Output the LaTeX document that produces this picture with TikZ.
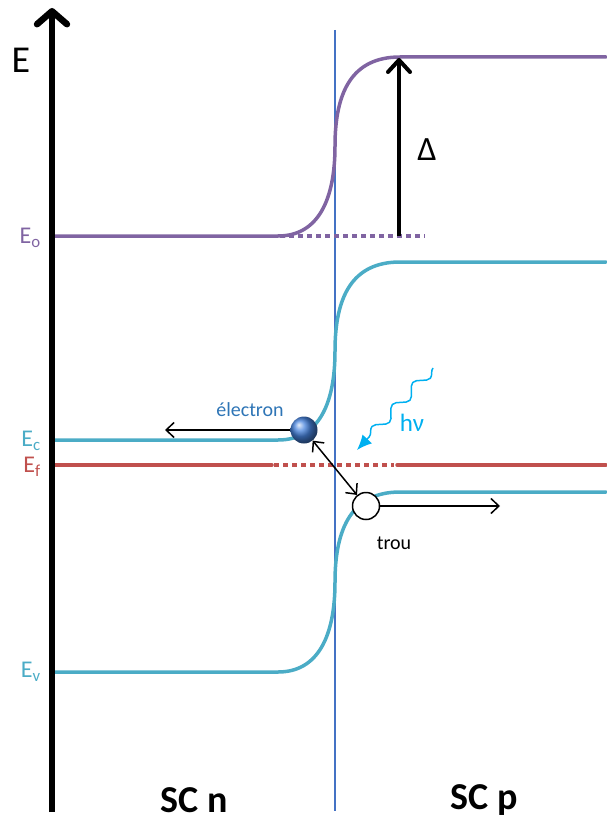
\documentclass[tikz,border=0pt]{standalone}
\usepackage{fontspec}
\setmainfont{Carlito}
\usetikzlibrary{%
	arrows.meta,%
	decorations.pathmorphing,%
	shadings,%
}
\definecolor{cpurple}{RGB}{128, 100, 162}
\definecolor{cteal}{RGB}{75, 172, 198}
\definecolor{cred}{RGB}{192, 80, 77}
\definecolor{cjunction}{RGB}{68, 114, 196}
\definecolor{ccyan}{RGB}{0, 176, 240}
\definecolor{celectron}{RGB}{46, 117, 182}
\definecolor{cball}{RGB}{70, 130, 220}
\tikzset{
	bandline/.style={%
			line width=3.5pt,%
			line cap=round},%
	dottedline/.style={%
			line width=3.5pt,%
			dash pattern=on 5pt off 4pt},%
	levellabel/.style={%
			anchor=east,%
			inner sep=0,%
			font={\fontsize{24}{24}\selectfont}},%
	thinarrow/.style={%
			line width=1.5pt,%
			-{Straight Barb[length=8pt,width=15pt]}},%
	photon/.style={%
			ccyan,%
			line width=1.5pt,%
			decorate,%
			decoration={snake, amplitude=5pt, segment length=30pt, post length=14pt},%
			-{Latex[length=15pt,width=13pt]}},%
	carrier/.style={%
			circle,%
			minimum size=27pt,%
			inner sep=0},%
}

\begin{document}
\begin{tikzpicture}[x=1pt, y=-1pt]
	\useasboundingbox (0,0) rectangle (606,826);

	% junction
	\draw[cjunction, line width=1.3pt] (335,30) -- (335,811);

	% vacuum level
	\draw[bandline, cpurple] (52,236) -- (278,236) .. controls (318,236) and (335,200) .. (335,146)
		.. controls (335,92) and (352,57) .. (400,57) -- (606,57);
	\draw[dottedline, cpurple] (280,236) -- (425,236);

	% conduction band
	\draw[bandline, cteal] (52,440) -- (278,440) .. controls (318,440) and (335,405) .. (335,351)
		.. controls (335,297) and (352,262) .. (400,262) -- (606,262);

	% valence band
	\draw[bandline, cteal] (52,672) -- (278,672) .. controls (318,672) and (335,636) .. (335,582)
		.. controls (335,528) and (352,492) .. (400,492) -- (606,492);

	% fermi level
	\draw[bandline, cred] (52,465) -- (272,465);
	\draw[dottedline, cred] (274,465) -- (394,465);
	\draw[bandline, cred] (397,465) -- (606,465);

	% energy axis
	\coordinate (axisLow) at (52,812);
	\coordinate (axisTop) at (52,8);
	\draw[line width=6.5pt, -{Straight Barb[length=13pt,width=30pt,round]}] (axisLow) -- (axisTop);
	\node[font={\fontsize{38}{38}\selectfont}] (elabel) at (21,60) {E};

	\node[levellabel, cpurple] (eo) at (41,238) {E\textsubscript{o}};
	\node[levellabel, cteal] (ec) at (41,441) {E\textsubscript{c}};
	\node[levellabel, cred] (ef) at (41,467) {E\textsubscript{f}};
	\node[levellabel, cteal] (ev) at (41,672) {E\textsubscript{v}};

	% gap
	\coordinate (gapLow) at (399,236);
	\coordinate (gapTop) at (399,58);
	\draw[line width=4pt, -{Straight Barb[length=12pt,width=22pt,round]}] (gapLow) -- (gapTop);
	\node[font={\fontsize{34}{34}\selectfont}] (delta) at (427,150) {Δ};

	% carriers
	\node[carrier, ball color=cball] (el) at (304,430) {};
	\node[carrier, draw, line width=1.5pt, fill=white] (hole) at (366,506) {};
	\coordinate (elEnd) at (165,430);
	\coordinate (holeEnd) at (500,506);
	\draw[thinarrow] (el) -- (elEnd);
	\draw[thinarrow] (hole) -- (holeEnd);
	\draw[line width=1.5pt, {Straight Barb[length=8pt,width=15pt]}-{Straight Barb[length=8pt,width=15pt]}] (el) -- (hole);
	\node[celectron, font={\fontsize{20}{20}\selectfont}] (eltext) at (250,410) {électron};
	\node[font={\fontsize{20}{20}\selectfont}] (holetext) at (394,543) {trou};

	% photon
	\coordinate (hvStart) at (433,368);
	\coordinate (hvEnd) at (357,450);
	\draw[photon] (hvStart) -- (hvEnd);
	\node[ccyan, font={\fontsize{25}{25}\selectfont}] (hv) at (412,423) {hν};

	% regions
	\node[font={\bfseries\fontsize{38}{38}\selectfont}] (scn) at (194,800) {SC n};
	\node[font={\bfseries\fontsize{38}{38}\selectfont}] (scp) at (484,800) {SC p};
\end{tikzpicture}
\end{document}
